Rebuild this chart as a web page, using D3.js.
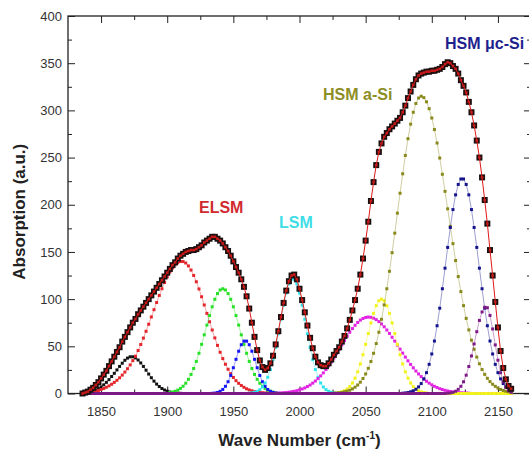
<!DOCTYPE html>
<html>
<head>
<meta charset="utf-8">
<script src="https://cdn.jsdelivr.net/npm/d3@7/dist/d3.min.js"></script>
<style>
  body { margin: 0; background: #fff; }
  svg { display: block; font-family: "Liberation Sans", Arial, sans-serif; }
</style>
</head>
<body>
<script>
// sampling grid of the spectrum (cm-1)
var waveStart = 1836;
var waveStep = 2;

// measured absorption, 1836 .. 2160
var measured = [
  0, 1, 2, 4, 6, 9, 12, 16, 20, 24,
  29, 34, 39, 44, 49, 55, 60, 65, 70, 75,
  79, 84, 88, 92, 96, 100, 104, 108, 112, 116,
  120, 124, 128, 132, 136, 139, 143, 146, 148, 150,
  151, 152, 152, 153, 155, 157, 160, 162, 164, 166,
  166, 164, 162, 159, 155, 151, 146, 140, 134, 128,
  121, 113, 103, 90, 75, 60, 46, 35, 28, 25,
  27, 32, 40, 52, 66, 81, 96, 109, 119, 125,
  126, 121, 111, 99, 86, 72, 59, 48, 39, 33,
  30, 29, 29, 32, 36, 41, 45, 49, 55, 61,
  69, 78, 88, 99, 111, 126, 143, 162, 182, 204,
  224, 242, 256, 265, 272, 276, 280, 283, 286, 289,
  292, 298, 305, 313, 320, 327, 333, 337, 339, 340,
  341, 341, 342, 342, 343, 344, 346, 349, 351, 350,
  347, 344, 339, 332, 326, 319, 309, 298, 284, 268,
  250, 229, 205, 180, 152, 125, 97, 70, 45, 27,
  15, 8, 5
];

// fitted components: first wave number and values (zero outside)
var blackStart = 1836;
var blackPeak = [0.5, 0.8, 1.2, 1.8, 2.7, 3.8, 5.2, 7.0, 9.2, 11.8, 14.7, 18.0, 21.4, 25.0, 28.7, 32.1, 35.2, 37.5, 38.9,
  38.9, 37.7, 35.5, 32.4, 28.7, 24.7, 20.6, 16.7, 13.1, 10.0, 7.4, 5.3, 3.7, 2.5, 1.6, 1.0, 0.6, 0.4, 0.2];

var elsmStart = 1836;
var elsmPeak = [0.6, 0.9, 1.2, 1.5, 1.9, 2.4, 3.2, 4.2, 5.3, 6.6, 8.1, 9.8, 11.8, 14.0, 16.6, 19.5, 22.7, 26.3, 30.3,
  34.8, 39.5, 45.5, 51.9, 58.7, 65.9, 73.4, 81.1, 88.8, 96.4, 103.9, 111.0, 117.6, 123.6, 128.8, 133.1, 136.4, 138.7, 139.9,
  139.8, 138.3, 135.2, 130.8, 125.1, 118.4, 110.8, 102.5, 93.8, 84.9, 76.0, 67.3, 58.9, 51.0, 43.7, 37.0, 31.0, 25.7,
  21.0, 17.0, 13.6, 10.8, 8.5, 6.6, 5.0, 3.8, 2.9, 2.1, 1.6, 1.1, 0.8, 0.6, 0.4, 0.3, 0.2];

var greenStart = 1902;
var greenPeak = [1.0, 1.5, 2.4, 3.6, 5.4, 7.7, 10.9, 15.0, 20.2, 26.5, 34.0, 42.6, 52.1, 62.2, 72.5, 82.6, 91.9, 99.8,
  105.9, 109.7, 111.0, 109.7, 105.9, 99.8, 91.9, 82.6, 72.5, 62.2, 52.1, 42.6, 34.0, 26.5, 20.2, 15.0, 10.9, 7.7, 5.4,
  3.6, 2.4, 1.5, 1.0];

var blueStart = 1934;
var bluePeak = [0.2, 0.5, 1.1, 2.3, 4.3, 7.6, 12.5, 19.1, 27.3, 36.2, 44.8, 51.7, 55.5, 55.5, 51.7, 44.8, 36.2, 27.3,
  19.1, 12.5, 7.6, 4.3, 2.3, 1.1, 0.5, 0.2];

var lsmStart = 1962;
var lsmPeak = [0.3, 0.7, 1.3, 2.3, 4.1, 6.9, 11.1, 17.2, 25.4, 36.0, 48.8, 63.3, 78.6, 93.5, 106.5, 116.2, 121.3, 121.3,
  116.2, 106.5, 93.5, 78.6, 63.3, 48.8, 36.0, 25.4, 17.2, 11.1, 6.9, 4.1, 2.3, 1.3, 0.7, 0.3];

var magentaStart = 1982;
var magentaPeak = [0.3, 0.4, 0.6, 0.8, 1.0, 1.4, 1.8, 2.3, 3.0, 3.8, 4.8, 5.9, 7.4, 9.0, 11.0, 13.2, 15.8, 18.6, 21.8,
  25.4, 29.2, 33.3, 37.6, 42.2, 46.8, 51.5, 56.1, 60.6, 64.9, 68.8, 72.3, 75.3, 77.8, 79.5, 80.6, 81.0,
  80.7, 79.8, 78.3, 76.2, 73.7, 70.7, 67.3, 63.6, 59.6, 55.5, 51.3, 47.0, 42.8, 38.6, 34.6, 30.8, 27.2, 23.8, 20.7,
  17.9, 15.3, 13.0, 11.0, 9.2, 7.6, 6.3, 5.1, 4.2, 3.4, 2.7, 2.1, 1.7, 1.3, 1.0, 0.8, 0.6, 0.5, 0.3];

var yellowStart = 2028;
var yellowPeak = [0.5, 1.0, 1.7, 2.9, 4.7, 7.3, 11.1, 16.3, 23.0, 31.3, 41.1, 52.1, 63.5, 74.8, 84.9, 93.0, 98.2, 100.0,
  98.2, 93.0, 84.9, 74.8, 63.5, 52.1, 41.1, 31.3, 23.0, 16.3, 11.1, 7.3, 4.7, 2.9, 1.7, 1.0, 0.5];

var aSiStart = 2026;
var aSiPeak = [0.4, 0.5, 0.8, 1.2, 1.8, 2.5, 3.5, 4.9, 6.7, 9.0, 12.0, 15.9, 20.7, 26.7, 33.9, 42.6, 52.9, 64.9, 78.6,
  93.9, 111.0, 129.5, 149.2, 169.9, 191.1, 212.2, 232.8, 252.2, 270.0, 285.4, 298.0, 307.3, 313.1, 315.0,
  313.5, 309.1, 301.8, 291.9, 279.7, 265.4, 249.5, 232.3, 214.2, 195.7, 177.1, 158.8, 140.9, 123.9, 108.0, 93.1,
  79.6, 67.4, 56.5, 46.9, 38.6, 31.5, 25.4, 20.3, 16.1, 12.6, 9.8, 7.6, 5.8, 4.3, 3.2, 2.4, 1.8, 1.3];

var ucSiStart = 2078;
var ucSiPeak = [0.3, 0.6, 1.0, 1.8, 2.9, 4.5, 7.0, 10.5, 15.5, 22.1, 30.9, 41.9, 55.6, 71.8, 90.4, 111.0, 132.8, 154.8,
  175.9, 194.9, 210.5, 221.5, 227.3, 227.3, 221.5, 210.5, 194.9, 175.9, 154.8, 132.8, 111.0, 90.4, 71.8, 55.6, 41.9,
  30.9, 22.1, 15.5, 10.5, 7.0, 4.5, 2.9];

var purpleStart = 2112;
var purplePeak = [0.3, 0.6, 1.2, 2.4, 4.4, 7.6, 12.4, 19.4, 28.6, 39.8, 52.5, 65.5, 77.4, 86.4, 91.4, 90.9, 82.7, 68.4,
  51.5, 35.3, 22.0, 12.4, 6.4, 3.0, 1.3];

// axis ticks
var xMajorTicks = [1850, 1900, 1950, 2000, 2050, 2100, 2150];
var xMinorTicks = [1875, 1925, 1975, 2025, 2075, 2125];
var yMajorTicks = [0, 50, 100, 150, 200, 250, 300, 350, 400];
var yMinorTicks = [25, 75, 125, 175, 225, 275, 325, 375];

// peak labels
var labelText = ["ELSM", "LSM", "HSM a-Si", "HSM \u03bcc-Si"];
var labelWave = [1924, 1984.5, 2017.8, 2110];
var labelAbs = [191.3, 175.4, 311.5, 365];
var labelColor = ["#d12a2e", "#3fdde6", "#8e8e26", "#1f1f8e"];

var width = 529;
var height = 451;

var x = d3.scaleLinear().domain([1825, 2175]).range([68, 531]);
var y = d3.scaleLinear().domain([0, 400]).range([393.5, 16]);

var svg = d3.select("body")
  .append("svg")
  .attr("width", width)
  .attr("height", height);

// axes with inward ticks
function styleAxis(g) {
  g.select(".domain").remove();
  g.selectAll(".tick line").attr("stroke", "#222").attr("stroke-width", 1);
  g.selectAll(".tick text")
    .attr("fill", "#333")
    .attr("font-size", "13px")
    .attr("font-family", "Liberation Sans, Arial, sans-serif");
}

svg.append("g")
  .attr("transform", "translate(0," + y(0) + ")")
  .call(d3.axisBottom(x).tickValues(xMajorTicks).tickSize(-7).tickPadding(13).tickFormat(d3.format("d")))
  .call(styleAxis);
svg.append("g")
  .attr("transform", "translate(0," + y(0) + ")")
  .call(d3.axisBottom(x).tickValues(xMinorTicks).tickSize(-4).tickFormat(""))
  .call(styleAxis);
svg.append("g")
  .attr("transform", "translate(0," + y(400) + ")")
  .call(d3.axisTop(x).tickValues(xMajorTicks).tickSize(-7).tickFormat(""))
  .call(styleAxis);
svg.append("g")
  .attr("transform", "translate(0," + y(400) + ")")
  .call(d3.axisTop(x).tickValues(xMinorTicks).tickSize(-4).tickFormat(""))
  .call(styleAxis);
svg.append("g")
  .attr("transform", "translate(" + x(1825) + ",0)")
  .call(d3.axisLeft(y).tickValues(yMajorTicks).tickSize(-7).tickPadding(6))
  .call(styleAxis);
svg.append("g")
  .attr("transform", "translate(" + x(1825) + ",0)")
  .call(d3.axisLeft(y).tickValues(yMinorTicks).tickSize(-4).tickFormat(""))
  .call(styleAxis);
svg.append("g")
  .attr("transform", "translate(" + x(2175) + ",0)")
  .call(d3.axisRight(y).tickValues(yMajorTicks).tickSize(-7).tickFormat(""))
  .call(styleAxis);
svg.append("g")
  .attr("transform", "translate(" + x(2175) + ",0)")
  .call(d3.axisRight(y).tickValues(yMinorTicks).tickSize(-4).tickFormat(""))
  .call(styleAxis);

svg.append("rect")
  .attr("x", x(1825))
  .attr("y", y(400))
  .attr("width", x(2175) - x(1825))
  .attr("height", y(0) - y(400))
  .attr("fill", "none")
  .attr("stroke", "#222")
  .attr("stroke-width", 1.3);

// components padded with zeros over the whole grid
function onGrid(start, values) {
  return measured.map(function(d, i) {
    var w = waveStart + i * waveStep;
    var k = (w - start) / waveStep;
    return { w: w, v: (k >= 0 && k < values.length) ? values[k] : 0 };
  });
}

var components = [
  { color: "#111111", data: onGrid(blackStart, blackPeak) },
  { color: "#e3262b", data: onGrid(elsmStart, elsmPeak) },
  { color: "#27e027", data: onGrid(greenStart, greenPeak) },
  { color: "#1616f5", data: onGrid(blueStart, bluePeak) },
  { color: "#2ee3ec", data: onGrid(lsmStart, lsmPeak) },
  { color: "#e323e3", data: onGrid(magentaStart, magentaPeak) },
  { color: "#f2f21c", data: onGrid(yellowStart, yellowPeak) },
  { color: "#8a8a1c", data: onGrid(aSiStart, aSiPeak) },
  { color: "#14148c", data: onGrid(ucSiStart, ucSiPeak) },
  { color: "#7c1a86", data: onGrid(purpleStart, purplePeak) }
];

var line = d3.line()
  .x(function(d) { return x(d.w); })
  .y(function(d) { return y(d.v); });

var compGroups = svg.selectAll("g.component")
  .data(components)
  .enter()
  .append("g")
  .attr("class", "component");

compGroups.append("path")
  .attr("d", function(c) { return line(c.data); })
  .attr("fill", "none")
  .attr("stroke", function(c) { return c.color; })
  .attr("stroke-width", 0.7)
  .attr("stroke-opacity", 0.6);

compGroups.selectAll("rect")
  .data(function(c) { return c.data.map(function(d) { return { w: d.w, v: d.v, color: c.color }; }); })
  .enter()
  .append("rect")
  .attr("x", function(d) { return x(d.w) - 1.5; })
  .attr("y", function(d) { return y(d.v) - 1.5; })
  .attr("width", 3)
  .attr("height", 3)
  .attr("fill", function(d) { return d.color; });

// measured spectrum: black squares with red fit line through
var points = measured.map(function(v, i) { return { w: waveStart + i * waveStep, v: v }; });

svg.append("g")
  .selectAll("rect")
  .data(points)
  .enter()
  .append("rect")
  .attr("x", function(d) { return x(d.w) - 3; })
  .attr("y", function(d) { return y(d.v) - 3; })
  .attr("width", 6)
  .attr("height", 6)
  .attr("fill", "#1a1010");

svg.append("path")
  .attr("d", line(points))
  .attr("fill", "none")
  .attr("stroke", "#e01818")
  .attr("stroke-width", 1);

svg.append("g")
  .selectAll("rect")
  .data(points)
  .enter()
  .append("rect")
  .attr("x", function(d) { return x(d.w) - 1.3; })
  .attr("y", function(d) { return y(d.v) - 1.3; })
  .attr("width", 2.6)
  .attr("height", 2.6)
  .attr("fill", "#c81818");

// peak labels
svg.selectAll("text.peak")
  .data(labelText)
  .enter()
  .append("text")
  .attr("class", "peak")
  .attr("x", function(d, i) { return x(labelWave[i]); })
  .attr("y", function(d, i) { return y(labelAbs[i]); })
  .attr("fill", function(d, i) { return labelColor[i]; })
  .attr("font-size", "16px")
  .attr("font-weight", "bold")
  .text(function(d) { return d; });

// axis titles
var xTitle = svg.append("text")
  .attr("x", (x(1825) + x(2175)) / 2)
  .attr("y", 446)
  .attr("text-anchor", "middle")
  .attr("font-size", "17px")
  .attr("font-weight", "bold")
  .attr("fill", "#222");
xTitle.append("tspan").text("Wave Number (cm");
xTitle.append("tspan").attr("font-size", "10px").attr("dy", "-7").text("-1");
xTitle.append("tspan").attr("dy", "7").text(")");

svg.append("text")
  .attr("transform", "translate(25," + ((y(0) + y(400)) / 2 + 7) + ") rotate(-90)")
  .attr("text-anchor", "middle")
  .attr("font-size", "17px")
  .attr("font-weight", "bold")
  .attr("fill", "#222")
  .text("Absorption (a.u.)");
</script>
</body>
</html>
